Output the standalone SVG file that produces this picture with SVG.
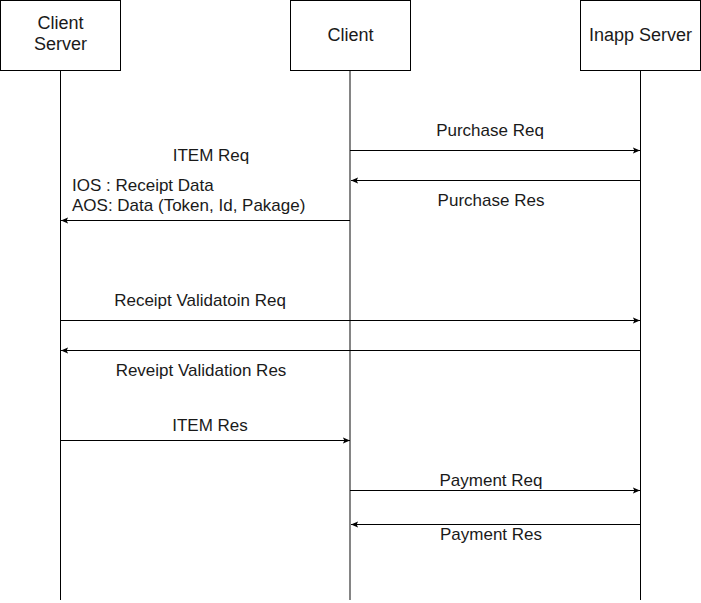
<svg xmlns="http://www.w3.org/2000/svg" width="701" height="603" viewBox="0 0 701 603">
<style>
.box{fill:#fff;stroke:#000;stroke-width:1}
.life{stroke:#000;stroke-width:1;fill:none}
.msg{stroke:#000;stroke-width:1;fill:none;marker-end:url(#ah)}
text{font-family:"Liberation Sans",Arial,sans-serif;font-size:17px;fill:#1a1a1a}
.n{font-size:18px}
.c{text-anchor:middle}
</style>
<defs>
<marker id="ah" viewBox="0 0 10 10" refX="9" refY="5" markerWidth="8" markerHeight="8" markerUnits="userSpaceOnUse" orient="auto">
<path d="M0,1 L9,5 L0,9 L2,5 Z" fill="#000"/>
</marker>
</defs>
<rect width="701" height="603" fill="#fff"/>
<g id="clientserver">
<line class="life" x1="60.5" y1="70" x2="60.5" y2="600"/>
<rect class="box" x="0.5" y="0.5" width="120" height="70"/>
<text class="c n" x="60.5" y="29">Client</text>
<text class="c n" x="60.5" y="50">Server</text>
</g>
<g id="client">
<line class="life" x1="350" y1="70" x2="350" y2="600" style="stroke:#666;stroke-width:1.6"/>
<rect class="box" x="290.5" y="0.5" width="120" height="70"/>
<text class="c n" x="350.5" y="41">Client</text>
</g>
<g id="inapp">
<line class="life" x1="640.5" y1="70" x2="640.5" y2="600"/>
<rect class="box" x="580.5" y="0.5" width="120" height="70"/>
<text class="c n" x="640.5" y="41">Inapp Server</text>
</g>
<g id="connectors">
<line class="msg" x1="350" y1="150.5" x2="640" y2="150.5"/>
<line class="msg" x1="640" y1="180.5" x2="351" y2="180.5"/>
<line class="msg" x1="350" y1="220.5" x2="61" y2="220.5"/>
<line class="msg" x1="61" y1="320.5" x2="640" y2="320.5"/>
<line class="msg" x1="640" y1="350.5" x2="61" y2="350.5"/>
<line class="msg" x1="61" y1="440.5" x2="350" y2="440.5"/>
<line class="msg" x1="350" y1="490.5" x2="640" y2="490.5"/>
<line class="msg" x1="640" y1="524.5" x2="351" y2="524.5"/>
<text class="c" x="490" y="136">Purchase Req</text>
<text class="c" x="491" y="206">Purchase Res</text>
<text class="c" x="211" y="161">ITEM Req</text>
<text x="72" y="191">IOS : Receipt Data</text>
<text x="72" y="211">AOS: Data (Token, Id, Pakage)</text>
<text class="c" x="200" y="306">Receipt Validatoin Req</text>
<text class="c" x="201" y="376">Reveipt Validation Res</text>
<text class="c" x="210" y="431">ITEM Res</text>
<text class="c" x="491" y="486">Payment Req</text>
<text class="c" x="491" y="540">Payment Res</text>
</g>
</svg>
